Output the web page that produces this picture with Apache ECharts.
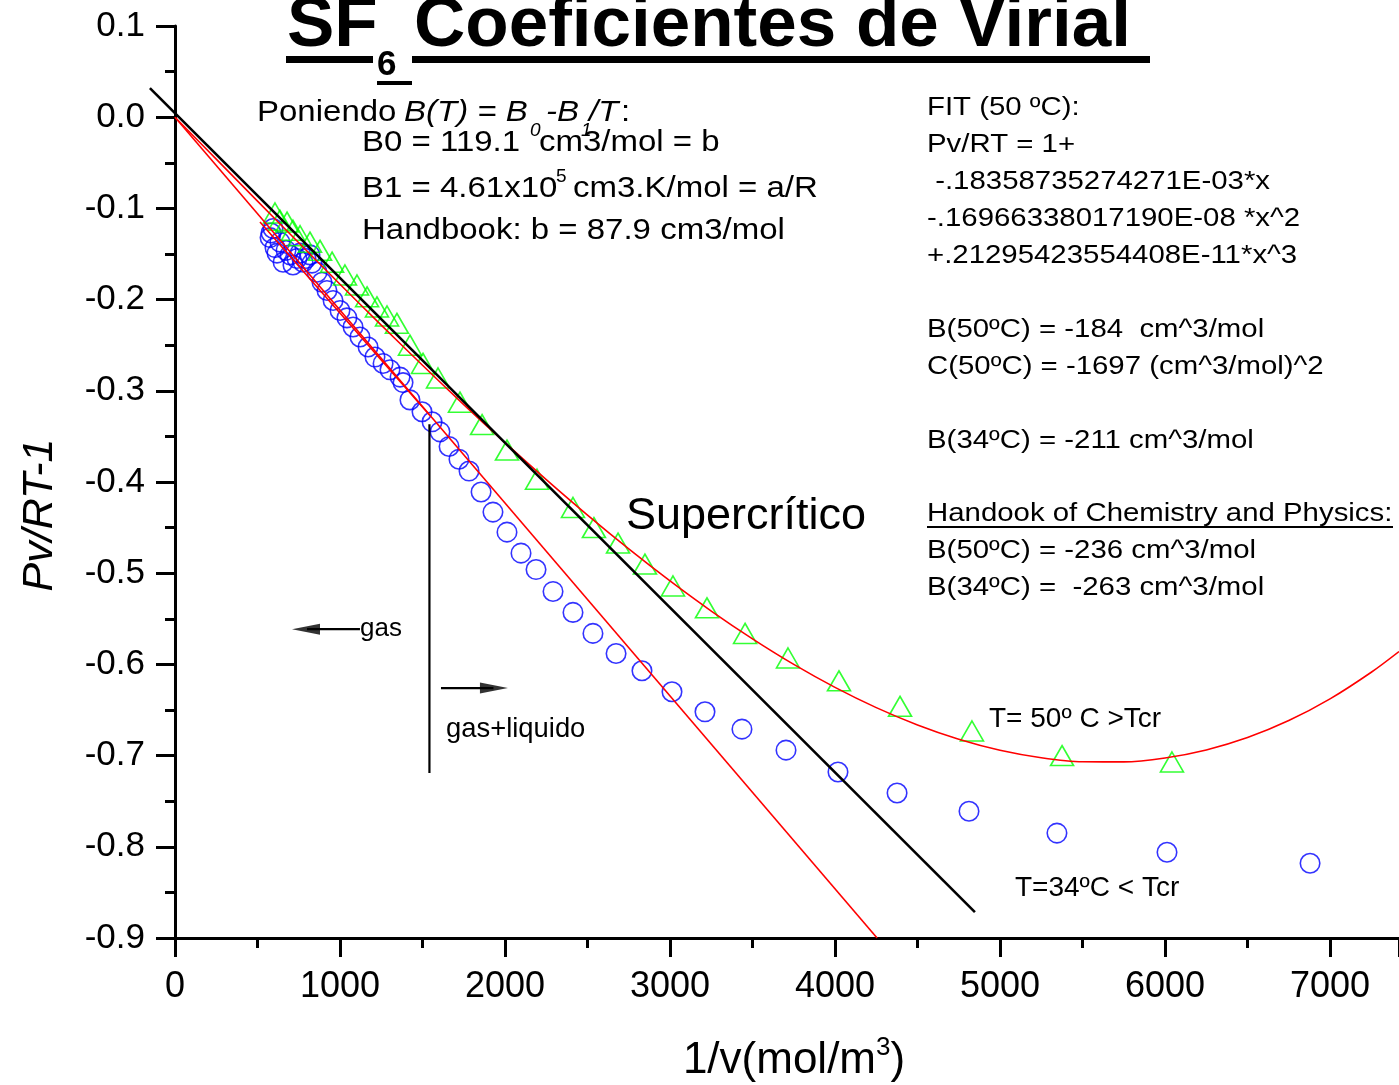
<!DOCTYPE html>
<html>
<head>
<meta charset="utf-8">
<script src="https://cdn.jsdelivr.net/npm/echarts@6/dist/echarts.min.js"></script>
<style>
html,body{margin:0;padding:0;background:#fff;}
#c{width:1399px;height:1085px;}
</style>
</head>
<body>
<div id="c"></div>
<script>
// ---- data ----
const c34X = [576, 582, 594, 606, 618, 636, 655, 673, 697, 715, 739, 758, 776, 794, 818, 830, 861, 891, 921, 958, 1000, 1042, 1079, 1121, 1170, 1212, 1261, 1303, 1364, 1382, 1424, 1497, 1558, 1606, 1661, 1721, 1782, 1855, 1927, 2012, 2097, 2188, 2291, 2412, 2533, 2673, 2830, 3012, 3212, 3436, 3703, 4018, 4376, 4812, 5345, 6012, 6879];
const c34Y = [-0.132, -0.127, -0.122, -0.143, -0.149, -0.137, -0.159, -0.146, -0.151, -0.162, -0.155, -0.149, -0.159, -0.155, -0.151, -0.160, -0.170, -0.181, -0.190, -0.201, -0.212, -0.220, -0.230, -0.241, -0.252, -0.263, -0.270, -0.277, -0.285, -0.291, -0.310, -0.323, -0.334, -0.345, -0.361, -0.375, -0.388, -0.411, -0.433, -0.455, -0.478, -0.496, -0.520, -0.543, -0.566, -0.588, -0.607, -0.630, -0.652, -0.671, -0.694, -0.718, -0.741, -0.761, -0.785, -0.806, -0.818];

const t50X = [606, 636, 679, 715, 758, 818, 879, 952, 1030, 1103, 1164, 1224, 1285, 1345, 1424, 1503, 1594, 1727, 1861, 2012, 2194, 2412, 2539, 2685, 2848, 3018, 3224, 3455, 3715, 4024, 4394, 4830, 5376, 6042];
const t50Y = [-0.105, -0.113, -0.115, -0.124, -0.130, -0.137, -0.146, -0.159, -0.173, -0.184, -0.197, -0.208, -0.218, -0.226, -0.250, -0.270, -0.286, -0.3125, -0.337, -0.365, -0.397, -0.428, -0.450, -0.467, -0.490, -0.514, -0.538, -0.566, -0.593, -0.618, -0.646, -0.673, -0.700, -0.707];

// red fit curve, T = 50 C
const fit50X = [0, 250, 500, 750, 1000, 1250, 1500, 1750, 2000, 2250, 2500, 2750, 3000, 3250, 3500, 3750, 4000, 4250, 4500, 4750, 5000, 5250, 5500, 5750, 6000, 6250, 6500, 6750, 7000, 7250, 7418];
const fit50Y = [0, -0.0460, -0.0920, -0.1377, -0.1832, -0.2280, -0.2720, -0.3151, -0.3569, -0.3974, -0.4363, -0.4734, -0.5085, -0.5415, -0.5720, -0.6000, -0.6252, -0.6474, -0.6664, -0.6821, -0.6942, -0.7024, -0.7068, -0.7069, -0.7026, -0.6938, -0.6802, -0.6616, -0.6378, -0.6086, -0.5859];

// red straight line, T = 34 C (B = -211)
const lin34X = [0, 4255];
const lin34Y = [0, -0.9];
// red short line over the gas region, T = 34 C
const gas34X = [515, 1545];
const gas34Y = [-0.115, -0.327];
// black line (B = -184)
const blackX = [-152, 4848];
const blackY = [0.0319, -0.8717];
// vertical divider
const vertX = [1542, 1542];
const vertY = [-0.3366, -0.719];
// arrows: shafts and heads
const arrowGasX = [1121, 800];
const arrowGasY = [-0.5614, -0.5614];
const arrowLiqX = [1612, 1930];
const arrowLiqY = [-0.626, -0.626];
const headX = [794, 1933];
const headY = [-0.5614, -0.626];
const headRot = [90, -90];

const yTicks = ['0.1','0.0','-0.1','-0.2','-0.3','-0.4','-0.5','-0.6','-0.7','-0.8','-0.9'];
const xTicks = ['0','1000','2000','3000','4000','5000','6000','7000'];

const zip = (a, b) => a.map((v, i) => [v, b[i]]);
const FF = 'Liberation Sans, Arial, Helvetica, sans-serif';

const chart = echarts.init(document.getElementById('c'), null, {renderer: 'canvas'});

function txt(x, baseline, text, size, extra, sx) {
  const st = Object.assign({
    text: text, fontSize: size, fontFamily: FF, fill: '#000',
    align: 'left', verticalAlign: 'middle'
  }, extra || {});
  return { type: 'text', x: x, y: baseline - 0.3465 * size, scaleX: sx || 1, style: st, z: 100 };
}
function rect(x, y, w, h) {
  return { type: 'rect', shape: {x: x, y: y, width: w, height: h}, style: {fill: '#000'}, z: 100 };
}

const rightLines = [
  ['FIT (50 ºC):', 117],
  ['Pv/RT = 1+', 154],
  [' -.18358735274271E-03*x', 191],
  ['-.16966338017190E-08 *x^2', 228],
  ['+.21295423554408E-11*x^3', 265],
  ['B(50ºC) = -184  cm^3/mol', 339],
  ['C(50ºC) = -1697 (cm^3/mol)^2', 376],
  ['B(34ºC) = -211 cm^3/mol', 450],
  ['Handook of Chemistry and Physics:', 523],
  ['B(50ºC) = -236 cm^3/mol', 560],
  ['B(34ºC) =  -263 cm^3/mol', 597]
];

const LS = 1.1;
const graphics = [
  // title
  txt(287, 51, 'SF', 71, {fontWeight: 'bold'}),
  txt(377, 77, '6', 35, {fontWeight: 'bold'}),
  txt(414, 51, 'Coeficientes de Virial', 71, {fontWeight: 'bold'}),
  rect(286, 56, 87, 7),
  rect(412, 56, 738, 7),
  rect(377, 81, 35, 4),
  // left annotation
  txt(257, 123, 'Poniendo', 30, null, LS),
  txt(404, 123, 'B(T) = B', 30, {fontStyle: 'italic'}, LS),
  txt(530, 137, '0', 19, {fontStyle: 'italic'}),
  txt(546, 123, '-B', 30, {fontStyle: 'italic'}, LS),
  txt(581, 137, '1', 19, {fontStyle: 'italic'}),
  txt(589, 123, '/T', 30, {fontStyle: 'italic'}, LS),
  txt(621, 123, ':', 30, null, LS),
  txt(362, 153, 'B0 = 119.1', 30, null, LS),
  txt(539, 153, 'cm3/mol = b', 30, null, LS),
  txt(362, 199, 'B1 = 4.61x10', 30, null, LS),
  txt(556, 183, '5', 19),
  txt(573, 199, 'cm3.K/mol = a/R', 30, null, LS),
  txt(362, 241, 'Handbook: b = 87.9 cm3/mol', 30, null, LS),
  // other labels
  txt(626, 532, 'Supercrítico', 45),
  txt(360, 638, 'gas', 26),
  txt(446, 739, 'gas+liquido', 27.4),
  txt(989, 729, 'T= 50º C >Tcr', 28),
  txt(1015, 898, 'T=34ºC < Tcr', 28),
  rect(927, 526, 466, 2),
  // axis names
  { type: 'text', x: 40, y: 515, rotation: Math.PI / 2, z: 100,
    style: {text: 'Pv/RT-1', fontSize: 43, fontStyle: 'italic', fontFamily: FF, fill: '#000', align: 'center', verticalAlign: 'middle'} },
  { type: 'text', x: 794, y: 1059, z: 100,
    style: {
      text: '{a|1/v(mol/m}{s|3}{a|)}', fontFamily: FF, fill: '#000', align: 'center', verticalAlign: 'middle',
      rich: {
        a: {fontSize: 44, fontFamily: FF, fill: '#000', lineHeight: 48, verticalAlign: 'bottom'},
        s: {fontSize: 26, fontFamily: FF, fill: '#000', lineHeight: 48, verticalAlign: 'top'}
      }
    } }
];
rightLines.forEach(l => graphics.push(txt(927, l[1], l[0], 26, null, 1.13)));

const axisCommon = {
  type: 'value',
  axisLine: {show: true, onZero: false, lineStyle: {color: '#000', width: 3}},
  axisTick: {show: true, inside: false, length: 19, lineStyle: {color: '#000', width: 3}},
  minorTick: {show: true, splitNumber: 2, length: 10, lineStyle: {color: '#000', width: 3}},
  splitLine: {show: false},
  minorSplitLine: {show: false}
};

const option = {
  animation: false,
  backgroundColor: '#fff',
  grid: {left: 175, right: 0, top: 26, bottom: 147, containLabel: false},
  xAxis: Object.assign({}, axisCommon, {
    min: 0, max: 7418, interval: 1000,
    axisLabel: {
      fontSize: 36, color: '#000', fontFamily: FF, margin: 31, showMaxLabel: false,
      formatter: v => { const i = Math.round(v / 1000); return (Math.abs(v - i * 1000) < 1e-6 && i < xTicks.length) ? xTicks[i] : ''; }
    }
  }),
  yAxis: Object.assign({}, axisCommon, {
    min: -0.9, max: 0.1, interval: 0.1,
    axisLabel: {
      fontSize: 35, color: '#000', fontFamily: FF, margin: 30,
      formatter: v => { const i = Math.round((0.1 - v) * 10); return yTicks[i] !== undefined ? yTicks[i] : ''; }
    }
  }),
  graphic: graphics,
  series: [
    { name: 'fit50', type: 'line', data: zip(fit50X, fit50Y), smooth: 0.3, showSymbol: false, symbol: 'none',
      lineStyle: {color: '#ff0000', width: 1.6}, z: 3 },
    { name: 'lin34', type: 'line', data: zip(lin34X, lin34Y), symbol: 'none',
      lineStyle: {color: '#ff0000', width: 1.6}, z: 3 },
    { name: 'gas34', type: 'line', data: zip(gas34X, gas34Y), symbol: 'none',
      lineStyle: {color: '#ff0000', width: 1.6}, z: 3 },
    { name: 'black', type: 'lines', coordinateSystem: 'cartesian2d', clip: false, polyline: false,
      data: [{coords: zip(blackX, blackY)}], symbol: ['none', 'none'],
      lineStyle: {color: '#000', width: 2.6, opacity: 1}, z: 4 },
    { name: 'vert', type: 'line', data: zip(vertX, vertY), symbol: 'none',
      lineStyle: {color: '#000', width: 2.2}, z: 4 },
    { name: 'arrowGas', type: 'line', data: zip(arrowGasX, arrowGasY), symbol: 'none',
      lineStyle: {color: '#000', width: 2.2}, z: 4 },
    { name: 'arrowLiq', type: 'line', data: zip(arrowLiqX, arrowLiqY), symbol: 'none',
      lineStyle: {color: '#000', width: 2.2}, z: 4 },
    { name: 'heads', type: 'scatter', data: headX.map((v, i) => ({value: [v, headY[i]], symbolRotate: headRot[i]})),
      symbol: 'triangle', symbolSize: [11, 28], itemStyle: {color: '#000'}, z: 5 },
    { name: 'T34', type: 'scatter', data: zip(c34X, c34Y), symbol: 'circle', symbolSize: 19.5,
      itemStyle: {color: 'rgba(0,0,0,0)', borderColor: '#0000ff', borderWidth: 1.6}, z: 2 },
    { name: 'T50', type: 'scatter', data: zip(t50X, t50Y), symbol: 'triangle', symbolSize: [23, 20],
      itemStyle: {color: 'rgba(0,0,0,0)', borderColor: '#00ff00', borderWidth: 1.6}, z: 2 }
  ]
};
chart.setOption(option);
</script>
</body>
</html>
